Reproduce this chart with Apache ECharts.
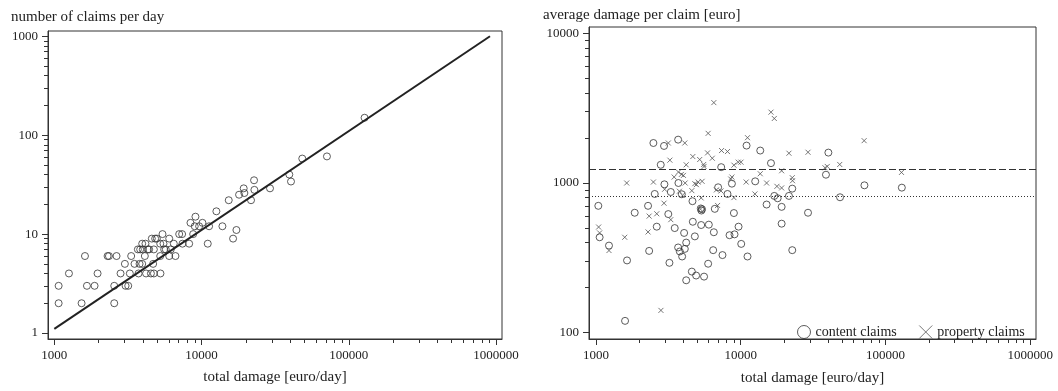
<!DOCTYPE html>
<html lang="en">

<head>
    <meta charset="UTF-8">
    <script src="https://cdn.jsdelivr.net/npm/echarts@6/dist/echarts.min.js"></script>
    <title>claims</title>
    <style>
        * {
            margin: 0;
            padding: 0;
        }

        body {
            background: #fff;
        }

        #main {
            width: 1058px;
            height: 391px;
        }
    </style>
</head>

<body>
<div id="main"></div>
<script>
    // left panel: one point per day
    var claimsX = [1070, 1070, 1257, 1532, 1615, 1666, 1877, 1967, 2300, 2350, 2553, 2553, 2647, 2818, 3015, 3048,
        3177, 3258, 3327, 3505, 3694, 3733, 3793, 3830, 3953, 3953, 3990, 4119, 4160, 4200, 4315, 4406, 4530,
        4595, 4690, 4744, 4744, 4840, 4970, 5240, 5240, 5260, 5430, 5515, 5573, 5716, 6030, 6030, 6180, 6480,
        6650, 7050, 7380, 7420, 8240, 8410, 8770, 8990, 9090, 9627, 10140, 11020, 11250, 12610, 13860, 15300,
        16370, 17250, 17980, 19330, 19540, 21680, 22730, 22850, 29170, 39450, 40500, 48300, 71070, 128000];
    var claimsY = [3, 2, 4, 2, 6, 3, 3, 4, 6, 6, 3, 2, 6, 4, 5, 3,
        3, 4, 6, 5, 7, 4, 5, 7, 8, 5, 7, 6, 8, 4, 7, 7, 4,
        9, 5, 7, 4, 9, 9, 8, 6, 4, 10, 8, 7, 7, 9, 6, 7, 8,
        6, 10, 10, 8, 8, 13, 10, 12, 15, 12, 13, 8, 12, 17, 12, 22,
        9, 11, 25, 29, 26, 22, 35, 28, 29, 40, 34, 58, 61, 150];
    // fitted line end points
    var fitX = [1000, 910000];
    var fitY = [1.1, 1000];

    // right panel
    var contentX = [1038, 1060, 1230, 1588, 1639, 1852, 2290, 2330, 2493, 2546, 2630, 2802, 2952, 2970, 3160,
        3217, 3287, 3500, 3695, 3712, 3695, 3795, 3917, 3937, 4064, 4108, 4200, 4200, 4642, 4667, 4595, 4820,
        4920, 5300, 5350, 5400, 5330, 5580, 5955, 6020, 6450, 6520, 6620, 6980, 7330, 7480, 8100, 8370, 8690,
        8970, 9060, 9660, 10080, 10970, 11140, 12590, 13640, 15090, 16180, 17060, 17990, 19170, 19170, 21530,
        22700, 22700, 29170, 38800, 40320, 48530, 71540, 129700];
    var contentY = [704, 434, 382, 120, 304, 633, 704, 352, 1850, 845, 511, 1323, 1768, 980, 620,
        293, 871, 500, 1948, 1000, 371, 349, 841, 323, 464, 363, 400, 224, 756, 551, 256, 440,
        241, 676, 655, 668, 524, 237, 289, 527, 356, 469, 672, 936, 1276, 330, 845, 448, 990,
        630, 454, 511, 392, 1778, 323, 1026, 1647, 718, 1357, 820, 791, 693, 535, 820,
        917, 356, 633, 1136, 1596, 803, 965, 931];
    var propertyX = [1043, 1060, 1230, 1580, 1630, 2290, 2330, 2493, 2630, 2810, 2952, 2980, 3160, 3240, 3287,
        3467, 3712, 3770, 3890, 3960, 4020, 4108, 4130, 4200, 4595, 4667, 4820, 4940, 5080, 5205, 5330, 5410,
        5550, 5580, 5270, 5955, 5900, 6360, 6520, 6790, 6920, 7370, 7300, 8100, 8530, 8970, 8690, 8970, 9610,
        10040, 10900, 11140, 12530, 13640, 15090, 16180, 17060, 17780, 19170, 19170, 21530, 22700, 22800,
        29170, 38200, 39600, 48300, 71200, 129000];
    var propertyY = [508, 464, 354, 434, 1000, 471, 601, 1015, 623, 141, 733, 908, 1850, 1421, 569,
        1096, 1183, 881, 1141, 828, 1124, 1850, 1000, 1323, 889, 1502, 990, 975, 1015, 1435, 795, 1026,
        1330, 1290, 669, 2146, 1589, 1464, 3443, 899, 708, 1647, 885, 1622, 1063, 1316, 1096, 799, 1378,
        1378, 1015, 2008, 845, 1153, 1000, 2973, 2698, 950, 927, 1207, 1581, 1085, 1036,
        1605, 1264, 1290, 1330, 1918, 1177];
    var meanLevel = 1239;    // dashed
    var medianLevel = 820;   // dotted

    // tick labels
    var xMajor = [1000, 10000, 100000, 1000000];
    var yMajorLeft = [1, 10, 100, 1000];
    var yMajorRight = [100, 1000, 10000];

    function minorTicks(majors, lo, hi) {
        var out = [];
        for (var i = 0; i < majors.length; i++) {
            for (var k = 2; k <= 9; k++) {
                var v = majors[i] * k;
                if (v >= lo && v <= hi) out.push(v);
            }
        }
        return out;
    }

    function pairs(xs, ys) {
        return xs.map(function (x, i) { return [x, ys[i]]; });
    }

    var serif = 'Liberation Serif';
    var ink = '#333';
    var fmt = function (v) { return String(Math.round(v)); };

    function mainAxis(grid, pos, min, max, majors, extra) {
        var ax = {
            type: 'log',
            gridIndex: grid,
            position: pos,
            min: min,
            max: max,
            axisLine: { show: true, lineStyle: { color: ink, width: 1 } },
            axisTick: { show: true, customValues: majors, length: 6, lineStyle: { color: ink } },
            axisLabel: {
                customValues: majors, formatter: fmt, margin: 10,
                fontFamily: serif, fontSize: 13, color: '#222'
            },
            splitLine: { show: false }
        };
        return Object.assign(ax, extra || {});
    }

    // short ticks only; drawn from the opposite side and shifted back when asked
    function minorAxis(grid, pos, min, max, majors, shift) {
        return {
            type: 'log',
            gridIndex: grid,
            position: pos,
            offset: shift || 0,
            min: min,
            max: max,
            axisLine: { show: false },
            axisTick: {
                show: true, inside: !!shift, customValues: minorTicks(majors, min, max),
                length: 4, lineStyle: { color: ink }
            },
            axisLabel: { show: false },
            splitLine: { show: false }
        };
    }

    var xNameOpt = {
        name: 'total damage [euro/day]',
        nameLocation: 'middle',
        nameTextStyle: { fontFamily: serif, fontSize: 15, color: '#222' }
    };

    var chartDom = document.getElementById('main');
    var myChart = echarts.init(chartDom);
    var option;

    option = {
        animation: false,
        title: [
            {
                text: 'number of claims per day', left: 6, top: 5,
                textStyle: { fontFamily: serif, fontSize: 15, fontWeight: 'normal', color: '#222' }
            },
            {
                text: 'average damage per claim [euro]', left: 538, top: 3,
                textStyle: { fontFamily: serif, fontSize: 15, fontWeight: 'normal', color: '#222' }
            }
        ],
        grid: [
            { left: 48, top: 31, right: 556, bottom: 52, show: true, borderColor: ink, borderWidth: 1 },
            { left: 589, top: 27, right: 22, bottom: 49, show: true, borderColor: ink, borderWidth: 1 }
        ],
        legend: {
            left: 792,
            top: 320,
            itemWidth: 13,
            itemHeight: 13,
            itemGap: 22,
            textStyle: { fontFamily: serif, fontSize: 14, color: '#222' },
            data: [
                { name: 'content claims', icon: 'circle', itemStyle: { color: 'transparent', borderColor: ink, borderWidth: 1 } },
                { name: 'property claims', icon: 'path://M0,0L10,10M10,0L0,10', itemStyle: { color: 'transparent', borderColor: '#555', borderWidth: 1 } }
            ]
        },
        xAxis: [
            mainAxis(0, 'bottom', 906, 1098000, xMajor, Object.assign({ nameGap: 31 }, xNameOpt)),
            minorAxis(0, 'bottom', 906, 1098000, xMajor),
            mainAxis(1, 'bottom', 895, 1096000, xMajor, Object.assign({ nameGap: 32 }, xNameOpt)),
            minorAxis(1, 'bottom', 895, 1096000, xMajor)
        ],
        yAxis: [
            mainAxis(0, 'left', 0.87, 1130, yMajorLeft),
            minorAxis(0, 'left', 0.87, 1130, yMajorLeft),
            mainAxis(1, 'left', 90.8, 11015, yMajorRight),
            minorAxis(1, 'right', 90.8, 11015, yMajorRight, -447)
        ],
        series: [
            {
                name: 'claims',
                type: 'scatter',
                xAxisIndex: 0,
                yAxisIndex: 0,
                symbol: 'circle',
                symbolSize: 7,
                itemStyle: { color: 'transparent', borderColor: ink, borderWidth: 1 },
                data: pairs(claimsX, claimsY)
            },
            {
                name: 'fit',
                type: 'line',
                xAxisIndex: 0,
                yAxisIndex: 0,
                symbol: 'none',
                lineStyle: { color: '#222', width: 2 },
                data: pairs(fitX, fitY)
            },
            {
                name: 'content claims',
                type: 'scatter',
                xAxisIndex: 2,
                yAxisIndex: 2,
                symbol: 'circle',
                symbolSize: 7,
                itemStyle: { color: 'transparent', borderColor: ink, borderWidth: 1 },
                data: pairs(contentX, contentY),
                markLine: {
                    silent: true,
                    symbol: 'none',
                    label: { show: false },
                    data: [
                        { yAxis: meanLevel, lineStyle: { color: ink, type: [7, 3], width: 1.2 } },
                        { yAxis: medianLevel, lineStyle: { color: ink, type: [1, 2], width: 1 } }
                    ]
                }
            },
            {
                name: 'property claims',
                type: 'scatter',
                xAxisIndex: 2,
                yAxisIndex: 2,
                symbol: 'path://M0,0L10,10M10,0L0,10',
                symbolSize: 5,
                itemStyle: { color: 'transparent', borderColor: '#555', borderWidth: 1 },
                data: pairs(propertyX, propertyY)
            }
        ]
    };

    option && myChart.setOption(option);
</script>

</body>

</html>
